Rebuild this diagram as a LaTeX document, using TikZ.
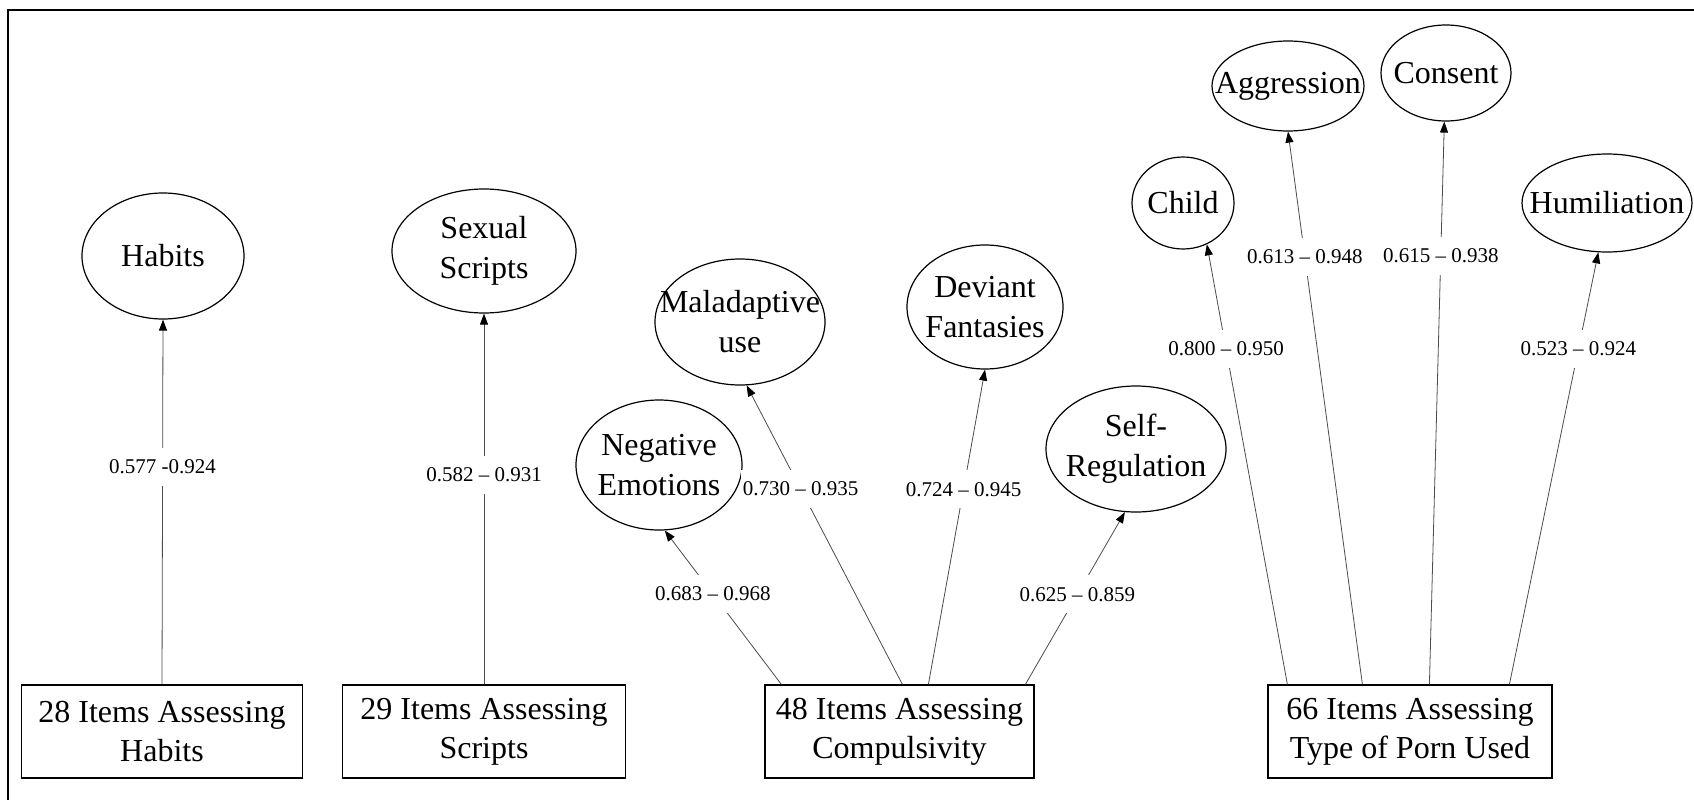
\documentclass[tikz,border=0pt]{standalone}
\usepackage{fontspec}
\setmainfont{Liberation Serif}
\usetikzlibrary{shapes.geometric,arrows.meta}
\begin{document}
\begin{tikzpicture}[x=1pt,y=-1pt,
  lat/.style={ellipse,draw,line width=1.2pt,inner sep=0pt},
  etext/.style={font=\fontsize{32}{40}\selectfont,align=center,inner sep=0pt},
  itembox/.style={draw,line width=1.2pt,minimum height=93pt,inner sep=0pt,align=center,font=\fontsize{32}{39}\selectfont},
  lbl/.style={fill=white,inner xsep=2pt,inner ysep=12pt,font=\fontsize{21}{24}\selectfont},
  conn/.style={draw=black!70,line width=0.8pt,-{Triangle[length=11pt,width=8pt,color=black]}}
]
\useasboundingbox (0,0) rectangle (1694,800);
\fill[white] (0,0) rectangle (1694,800);
\draw[line width=2pt] (1700,10) -- (8,10) -- (8,806);

% latent ellipses
\node[lat,minimum width=162pt,minimum height=126pt,label={[etext]center:Habits}] (hab) at (163,256) {};
\node[lat,minimum width=184pt,minimum height=124pt,label={[etext]center:{Sexual\\Scripts}}] (scr) at (484,251) {};
\node[lat,minimum width=170pt,minimum height=126pt,label={[etext]center:{Maladaptive\\use}}] (mal) at (740,322) {};
\node[lat,minimum width=156pt,minimum height=124pt,label={[etext]center:{Deviant\\Fantasies}}] (dev) at (985,307) {};
\node[lat,minimum width=166pt,minimum height=130pt,label={[etext]center:{Negative\\Emotions}}] (neg) at (659,465) {};
\node[lat,minimum width=180pt,minimum height=126pt,label={[etext]center:{Self-\\Regulation}}] (slf) at (1136,449) {};
\node[lat,minimum width=102pt,minimum height=92pt,label={[etext]center:Child}] (chd) at (1183,203) {};
\node[lat,minimum width=152pt,minimum height=90pt,label={[etext]center:Aggression}] (agg) at (1288,86) {};
\node[lat,minimum width=130pt,minimum height=96pt,label={[etext]center:Consent}] (cns) at (1446,73) {};
\node[lat,minimum width=170pt,minimum height=98pt,label={[etext]center:Humiliation}] (hum) at (1607,203) {};

% item boxes
\node[itembox,minimum width=281pt] (box1) at (162,731.5) {28 Items Assessing\\Habits};
\node[itembox,minimum width=283pt] (box2) at (484,731.5) {29 Items Assessing\\Scripts};
\node[itembox,minimum width=269pt] (box3) at (899.5,731.5) {48 Items Assessing\\Compulsivity};
\node[itembox,minimum width=284pt] (box4) at (1410,731.5) {66 Items Assessing\\Type of Porn Used};

% start points on box tops
\coordinate (b3a) at ([xshift=17pt]box3.north west);
\coordinate (b3b) at ([xshift=138pt]box3.north west);
\coordinate (b3c) at ([xshift=164pt]box3.north west);
\coordinate (b3d) at ([xshift=261pt]box3.north west);
\coordinate (b4a) at ([xshift=20pt]box4.north west);
\coordinate (b4b) at ([xshift=95pt]box4.north west);
\coordinate (b4c) at ([xshift=162pt]box4.north west);
\coordinate (b4d) at ([xshift=242pt]box4.north west);

% connectors
\draw[conn] (box1.north) -- node[lbl,pos=0.596]{0.577 -0.924} (hab.south);
\draw[conn] (box2.north) -- node[lbl,pos=0.565]{0.582 – 0.931} (scr.south);
\draw[conn] (b3a) -- node[lbl,pos=0.587]{0.683 – 0.968} (neg.-85);
\draw[conn] (b3b) -- node[lbl,pos=0.653]{0.730 – 0.935} (mal.-84);
\draw[conn] (b3c) -- node[lbl,pos=0.62]{0.724 – 0.945} (dev.south);
\draw[conn] (b3d) -- node[lbl,pos=0.523]{0.625 – 0.859} (slf.-100);
\draw[conn] (b4a) -- node[lbl,pos=0.762]{0.800 – 0.950} (chd.-60);
\draw[conn] (b4b) -- node[lbl,pos=0.773]{0.613 – 0.948} (agg.south);
\draw[conn] (b4c) -- node[lbl,pos=0.761]{0.615 – 0.938} (cns.-92);
\draw[conn] (b4d) -- node[lbl,pos=0.776]{0.523 – 0.924} (hum.-100);
\end{tikzpicture}
\end{document}
